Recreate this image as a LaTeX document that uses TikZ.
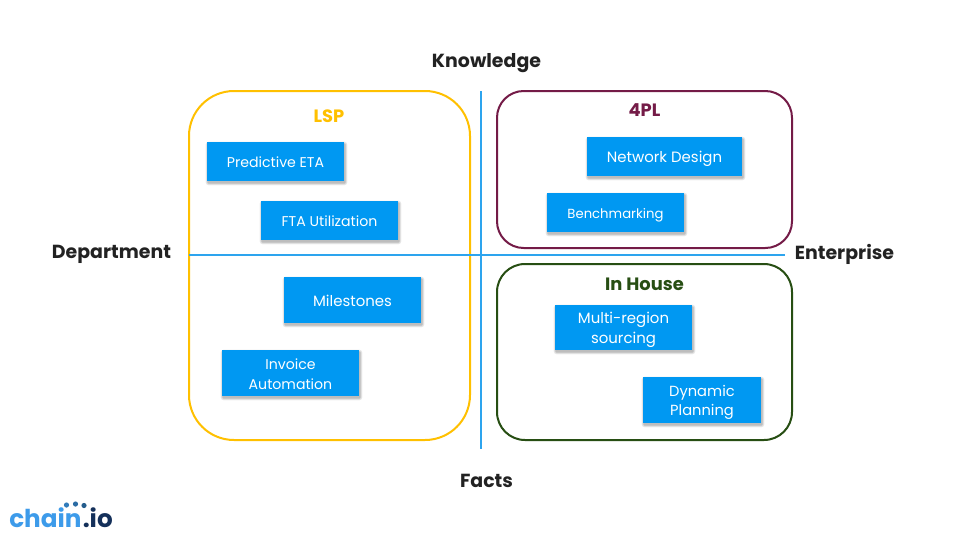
\documentclass[tikz,border=0pt]{standalone}
\usepackage{fontspec}
\setmainfont{Poppins}
\definecolor{boxblue}{HTML}{0098F2}
\definecolor{axisblue}{HTML}{2DA4EE}
\definecolor{lspc}{HTML}{FFC000}
\definecolor{fourpl}{HTML}{741B47}
\definecolor{inhouse}{HTML}{274E13}
\definecolor{inkc}{HTML}{222222}
\definecolor{logoblue}{HTML}{3D9BEA}
\definecolor{logonavy}{HTML}{14305A}
\tikzset{
  x=0.75pt,y=-0.75pt,
  itembox/.style={fill=boxblue,inner sep=0pt},
  itemtext/.style={text=white,font=\fontsize{10.6pt}{14.4pt}\selectfont,align=center,inner sep=0pt},
  softshade/.style={fill=black,fill opacity=0.07},
  axislabel/.style={font=\fontsize{14.2pt}{16pt}\selectfont\bfseries,text=inkc,inner sep=0pt},
  grouplabel/.style={font=\fontsize{13.4pt}{15pt}\selectfont\bfseries,inner sep=0pt},
  groupframe/.style={line width=1.5pt},
  axisline/.style={draw=axisblue,line width=1.5pt},
}
\newcommand{\softbox}[4]{%
  \foreach \g/\r in {2.4/2.4,1.6/1.6,0.9/1.0,0.3/0.5}{%
    \fill[softshade,rounded corners=\r] ({#1+1-\g},{#2+2-\g}) rectangle ({#3+1+\g},{#4+2+\g});}}
\newcommand{\itembox}[7]{%
  \softbox{#2}{#3}{#4}{#5}%
  \node[itembox,minimum width=#4*0.75pt-#2*0.75pt,minimum height=#5*0.75pt-#3*0.75pt,
    label={[itemtext,yshift=-1.7pt,#7]center:#6}] (#1) at ({(#2+#4)/2},{(#3+#5)/2}) {};}
\begin{document}
\begin{tikzpicture}
\useasboundingbox (0,0) rectangle (960,540);
\fill[white] (0,0) rectangle (960,540);
% frames
\draw[groupframe,draw=lspc,rounded corners=33.75pt] (189,91) rectangle (470,440);
\draw[groupframe,draw=fourpl,rounded corners=20pt] (497,91) rectangle (792,248);
\draw[groupframe,draw=inhouse,rounded corners=21pt] (497,264) rectangle (792,440);
% axes
\coordinate (hl) at (189,255);
\coordinate (hr) at (785,255);
\coordinate (vt) at (481,91);
\coordinate (vb) at (481,449);
\draw[axisline] (hl) -- (hr);
\draw[axisline] (vt) -- (vb);
% labels
\node[axislabel] (know) at (486.5,63) {Knowledge};
\node[axislabel] (facts) at (486.5,481) {Facts};
\node[axislabel] (dept) at (111.5,254.5) {Department};
\node[axislabel] (ent) at (844.5,254.5) {Enterprise};
\node[grouplabel,text=lspc] (lsp) at (329,116.5) {LSP};
\node[grouplabel,text=fourpl] (fpl) at (644.5,110.5) {4PL};
\node[grouplabel,text=inhouse] (inh) at (644.5,284) {In House};
% boxes
\itembox{eta}{207}{142}{344}{181}{Predictive ETA}{yshift=1.5pt}
\itembox{fta}{261}{201}{398}{240}{FTA Utilization}{yshift=1.5pt}
\itembox{mil}{284}{277}{421}{323}{Milestones}{yshift=0.8pt,font=\fontsize{11.2pt}{14.4pt}\selectfont}
\itembox{inv}{222}{350}{359}{396}{Invoice\\Automation}{yshift=0.8pt}
\itembox{net}{587}{137}{742}{176}{Network Design}{font=\fontsize{11.2pt}{14.4pt}\selectfont}
\itembox{ben}{547}{193}{684}{232}{Benchmarking}{font=\fontsize{9.9pt}{14.4pt}\selectfont}
\itembox{mul}{555}{305}{692}{350}{Multi-region\\sourcing}{font=\fontsize{11.2pt}{14.6pt}\selectfont}
\itembox{dyn}{643}{377}{761}{423}{Dynamic\\Planning}{font=\fontsize{11pt}{14.6pt}\selectfont}
% logo
\node[anchor=base west,inner sep=0pt,font=\fontsize{18.5pt}{20pt}\selectfont\bfseries,text=logoblue] (logochain) at (9,527.5) {chain};
\node[anchor=base west,inner sep=0pt,font=\fontsize{18.5pt}{20pt}\selectfont\bfseries,text=logonavy] (logoio) at (82.5,527.5) {.io};
\fill[logoblue!80!black] (66.5,505) circle (2.6);
\fill[logoblue!70!black] (75.5,504) circle (2.6);
\fill[logoblue!60!black] (84,505.5) circle (2.6);
\end{tikzpicture}
\end{document}
